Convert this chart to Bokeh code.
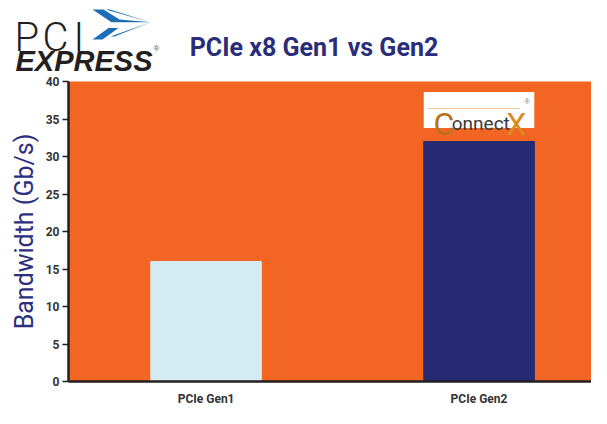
from bokeh.plotting import figure
from bokeh.layouts import column
from bokeh.models import Range1d, FixedTicker, ColumnDataSource
from bokeh.core.properties import value
from bokeh.embed import file_html
from bokeh.resources import INLINE

categories = ["PCIe Gen1", "PCIe Gen2"]
bandwidth = [16, 32]
bar_colors = ["#D3ECF3", "#262A72"]
y_ticks = [0, 5, 10, 15, 20, 25, 30, 35, 40]
title_text = "PCIe x8 Gen1 vs Gen2"
y_label = "Bandwidth (Gb/s)"

FONT = "Roboto"
positions = [i + 0.5 for i in range(len(categories))]
BAR_W = 0.405

W = 591
HH = 73          # header height
CH = 408 - HH    # chart height

# ---------------- header (logo + title), coordinates in header pixels ----------------
h = figure(width=W, height=HH, output_backend="svg", toolbar_location=None,
           x_range=Range1d(0, W), y_range=Range1d(HH, 0),
           min_border=0, x_axis_type=None, y_axis_type=None)
h.outline_line_color = None
h.grid.visible = False
h.background_fill_color = "white"
h.border_fill_color = "white"


def htext(x, y, t, size, color, font=FONT, style="normal", align="left"):
    h.text(x=[x], y=[y], text=[t], text_font=value(font), text_font_style=style,
           text_font_size=size, text_color=color, text_align=align,
           text_baseline="alphabetic")


htext(313.5, 47, title_text, "25px", "#2A2E7A", style="bold", align="center")
THIN = "Roboto Light, Roboto"
htext(14, 37, "P", "40px", "#231F20", font=THIN)
htext(42, 37, "C", "40px", "#231F20", font=THIN)
htext(73, 37, "I", "40px", "#231F20", font=THIN)
htext(15, 60, "EXPRESS", "29px", "#231F20", font="Liberation Sans", style="bold italic")
htext(153, 48, "®", "8px", "#555555", font="Liberation Sans")
chev = [
    [(92, 9), (103, 9), (119, 19), (150, 21.7), (111, 21.7)],
    [(105, 9), (109.5, 9), (150, 21.7)],
    [(92, 39), (102, 39), (118, 27.5), (108, 27.5)],
    [(110, 36), (114, 36), (150, 21.7)],
]
h.patches(xs=[[a for a, b in c] for c in chev], ys=[[b for a, b in c] for c in chev],
          fill_color="#1C6DB5", line_color=None)

# ---------------- chart ----------------
p = figure(width=W, height=CH, output_backend="svg", toolbar_location=None,
           x_range=Range1d(-0.004, 1.912), y_range=Range1d(0, 40),
           min_border_left=68, min_border_right=0, min_border_top=8,
           min_border_bottom=22)
p.background_fill_color = "#F36523"
p.border_fill_color = "white"
p.outline_line_color = None
p.grid.visible = False

for fig in (h, p):
    try:
        fig.frame_align = False
    except AttributeError:
        pass

src = ColumnDataSource(dict(x=positions, top=bandwidth, color=bar_colors, name=categories))
p.vbar(x="x", top="top", width=BAR_W, color="color", source=src)

p.yaxis.ticker = FixedTicker(ticks=y_ticks)
p.yaxis.minor_tick_line_color = None
p.yaxis.major_tick_out = 6
p.yaxis.major_tick_in = 0
p.yaxis.major_tick_line_width = 1.5
p.yaxis.major_tick_line_color = "#231F20"
p.yaxis.axis_line_width = 2.5
p.yaxis.axis_line_color = "#231F20"
p.yaxis.major_label_text_font = FONT
p.yaxis.major_label_text_font_style = "bold"
p.yaxis.major_label_text_font_size = "12px"
p.yaxis.major_label_text_color = "#333333"
p.yaxis.major_label_standoff = 3
p.yaxis.axis_label = y_label
p.yaxis.axis_label_text_font = FONT
p.yaxis.axis_label_text_font_style = "normal"
p.yaxis.axis_label_text_font_size = "25px"
p.yaxis.axis_label_text_color = "#2B2F7E"
p.yaxis.axis_label_standoff = 4

p.xaxis.ticker = FixedTicker(ticks=positions)
p.xaxis.major_label_overrides = {pos: c for pos, c in zip(positions, categories)}
p.xaxis.major_tick_line_color = None
p.xaxis.minor_tick_line_color = None
p.xaxis.axis_line_width = 2.5
p.xaxis.axis_line_color = "#231F20"
p.xaxis.major_label_text_font = FONT
p.xaxis.major_label_text_font_style = "bold"
p.xaxis.major_label_text_font_size = "12px"
p.xaxis.major_label_text_color = "#333333"
p.xaxis.major_label_standoff = 4

# ConnectX logo above the Gen2 bar (data units, tied to the bar)
gx = positions[1]
p.quad(left=[gx - BAR_W / 2], right=[gx + BAR_W / 2], bottom=[33.8], top=[38.6],
       fill_color="white", line_color=None)
p.segment(x0=[gx - 0.19], x1=[gx + 0.15], y0=[36.4], y1=[36.4],
          line_color="#F5C89A", line_width=1)


def ptext(x, y, t, size, color, font=FONT):
    p.text(x=[x], y=[y], text=[t], text_font=value(font), text_font_size=size,
           text_color=color, text_baseline="alphabetic")


ptext(gx - 0.167, 34.4, "C", "32px", "#B5741C")
ptext(gx - 0.1, 34.4, "onnect", "19px", "#3A3A3A")
ptext(gx + 0.1, 34.4, "X", "32px", "#D98A20")
ptext(gx + 0.167, 37.4, "®", "7px", "#777777", font="Liberation Sans")

layout = column(h, p, spacing=0)
open("out.html", "w").write(file_html(layout, INLINE))
